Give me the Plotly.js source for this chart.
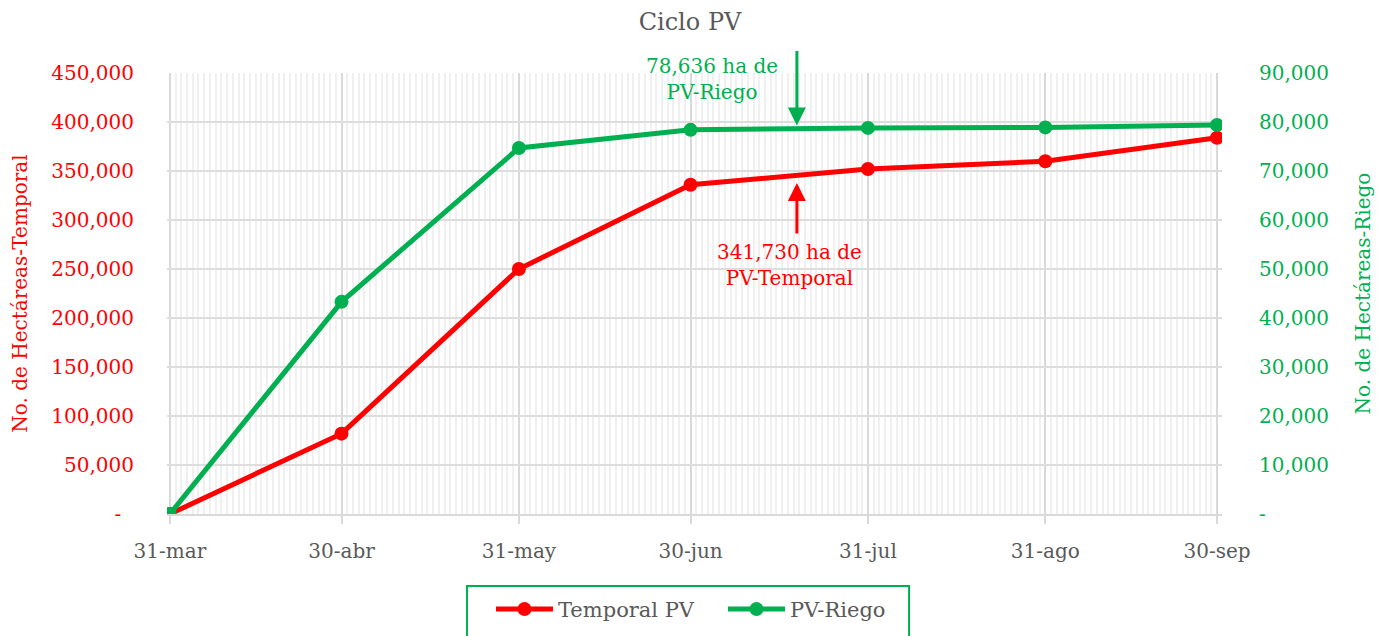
<!DOCTYPE html>
<html>
<head>
<meta charset="utf-8">
<script src="https://cdn.plot.ly/plotly-3.0.1.min.js"></script>
<style>html,body{margin:0;padding:0;background:#fff;}#chart{width:1380px;height:636px;}</style>
</head>
<body>
<div id="chart"></div>
<script>
var dates = ['2023-03-31','2023-04-30','2023-05-31','2023-06-30','2023-07-31','2023-08-31','2023-09-30'];
var tickLabels = ['31-mar','30-abr','31-may','30-jun','31-jul','31-ago','30-sep'];
var temporal = [0, 82000, 250000, 336000, 352000, 360000, 384000];
var riego = [0, 43300, 74700, 78400, 78800, 78900, 79400];
var leftTicks = [0,50000,100000,150000,200000,250000,300000,350000,400000,450000];
var leftTickText = ['-\u00a0\u00a0','50,000','100,000','150,000','200,000','250,000','300,000','350,000','400,000','450,000'];
var rightTicks = [0,10000,20000,30000,40000,50000,60000,70000,80000,90000];
var rightTickText = ['-','10,000','20,000','30,000','40,000','50,000','60,000','70,000','80,000','90,000'];

var RED = '#FF0000', GREEN = '#00B050', GRAY = '#595959';
var FONT = 'DejaVu Serif, Liberation Serif, serif';

var traces = [
  {x: dates, y: temporal, name: 'Temporal PV', type: 'scatter', mode: 'lines+markers',
   line: {color: RED, width: 5}, marker: {color: RED, size: 14}, yaxis: 'y'},
  {x: dates, y: riego, name: 'PV-Riego', type: 'scatter', mode: 'lines+markers',
   line: {color: GREEN, width: 5}, marker: {color: GREEN, size: 14}, yaxis: 'y2'}
];

var layout = {
  width: 1380, height: 636,
  margin: {l: 167, r: 158, t: 73, b: 122, autoexpand: false},
  paper_bgcolor: '#fff', plot_bgcolor: '#fff',
  font: {family: FONT, size: 20, color: GRAY},
  title: {text: 'Ciclo PV', font: {family: FONT, size: 24, color: GRAY}, x: 0.5, xanchor: 'center', y: 0.966, yanchor: 'middle'},
  showlegend: true,
  legend: {orientation: 'h', x: 0.3071, xanchor: 'left', y: -0.170, yanchor: 'top',
           borderwidth: 0, bgcolor: 'rgba(0,0,0,0)', font: {family: FONT, size: 21, color: GRAY},
           itemwidth: 57, entrywidth: 160},
  shapes: [
    {type: 'rect', xref: 'paper', yref: 'paper', x0: 0.2844, x1: 0.7034, y0: -0.1633, y1: -0.30,
     line: {color: GREEN, width: 2}, fillcolor: 'rgba(0,0,0,0)', layer: 'below'}
  ],
  xaxis: {
    type: 'date', range: ['2023-03-30T12:00', '2023-09-30T21:00'],
    tickmode: 'array', tickvals: dates, ticktext: tickLabels,
    ticks: 'outside', ticklen: 8, tickwidth: 2, tickcolor: '#D9D9D9',
    showgrid: true, gridcolor: '#D9D9D9', gridwidth: 2,
    minor: {tick0: '2023-03-31', dtick: 86400000, showgrid: true, gridcolor: '#F0F0F0', gridwidth: 2, ticks: ''},
    showline: true, linecolor: '#D9D9D9', linewidth: 2, zeroline: false,
    tickfont: {family: FONT, size: 20, color: GRAY}, ticklabelstandoff: 10
  },
  yaxis: {
    range: [0, 450000], tickmode: 'array', tickvals: leftTicks, ticktext: leftTickText,
    showgrid: true, gridcolor: '#DDDDDD', gridwidth: 2, zeroline: false, showline: false,
    tickfont: {family: FONT, size: 20, color: RED}, ticklabelstandoff: 32,
    title: {text: 'No. de Hectáreas-Temporal', font: {family: FONT, size: 20, color: RED}, standoff: 18}
  },
  yaxis2: {
    range: [0, 90000], overlaying: 'y', side: 'right', tickmode: 'array', tickvals: rightTicks, ticktext: rightTickText,
    showgrid: false, zeroline: false, showline: false,
    tickfont: {family: FONT, size: 20, color: GREEN}, ticklabelstandoff: 36,
    title: {text: 'No. de Hectáreas-Riego', font: {family: FONT, size: 20, color: GREEN}, standoff: 28}
  },
  annotations: [
    {x: '2023-07-18T14:00', y: 79300, xref: 'x', yref: 'y2', text: '', showarrow: true,
     ax: 0, ay: -76, arrowhead: 2, arrowsize: 1.2, arrowwidth: 3, arrowcolor: GREEN},
    {x: '2023-07-03T19:00', y: 88800, xref: 'x', yref: 'y2', text: '78,636 ha de<br>PV-Riego', showarrow: false,
     font: {family: FONT, size: 20, color: GREEN}, xanchor: 'center', yanchor: 'middle'},
    {x: '2023-07-18T14:00', y: 337800, xref: 'x', yref: 'y', text: '', showarrow: true,
     ax: 0, ay: 52, arrowhead: 2, arrowsize: 1.2, arrowwidth: 3, arrowcolor: RED},
    {x: '2023-07-17T05:00', y: 254000, xref: 'x', yref: 'y', text: '341,730 ha de<br>PV-Temporal', showarrow: false,
     font: {family: FONT, size: 20, color: RED}, xanchor: 'center', yanchor: 'middle'}
  ]
};

Plotly.newPlot('chart', traces, layout, {displayModeBar: false, staticPlot: true});
</script>
</body>
</html>
